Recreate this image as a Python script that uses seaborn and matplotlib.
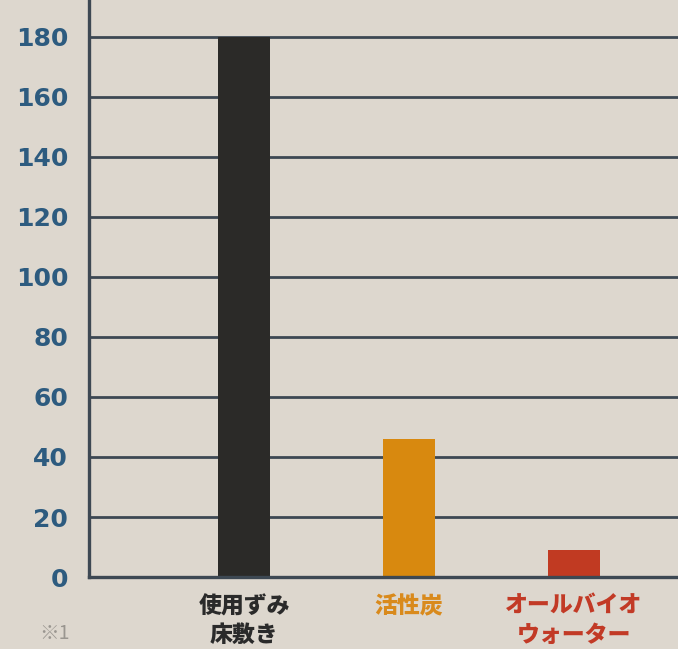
import matplotlib.pyplot as plt
import seaborn as sns
import pandas as pd

categories = ["使用ずみ\n床敷き", "活性炭", "オールバイオ\nウォーター"]
values = [180, 46, 9]
bar_colors = ["#2b2a28", "#d8890f", "#c13a22"]
label_colors = ["#2a2a2a", "#d98a1c", "#c23a26"]
y_ticks = [0, 20, 40, 60, 80, 100, 120, 140, 160, 180]

bg = "#ddd7ce"
line_col = "#3d4853"

sns.set_style("white")
plt.rcParams['font.family'] = ['Noto Sans CJK JP', 'DejaVu Sans']

df = pd.DataFrame({"cat": categories, "val": values})

fig = plt.figure(figsize=(6.78, 6.49), dpi=100, facecolor=bg)
ax = fig.add_axes([0.1313, 0.1109, 0.8687, 0.8891])
ax.set_facecolor(bg)

sns.barplot(data=df, x="cat", y="val", hue="cat", palette=bar_colors,
            width=0.315, legend=False, ax=ax, zorder=3, saturation=1,
            edgecolor="none", linewidth=0)

ax.set_xlim(-0.94, 2.63)
ax.set_ylim(0, 192.3)
ax.set_yticks(y_ticks)
for t in y_ticks[1:]:
    ax.axhline(t, color=line_col, lw=2.0, zorder=1)

for s in ["top", "right"]:
    ax.spines[s].set_visible(False)
for s in ["left", "bottom"]:
    ax.spines[s].set_color(line_col)
    ax.spines[s].set_linewidth(2.4)
ax.spines["bottom"].set_zorder(4)

ax.tick_params(axis="y", length=0, pad=15, labelsize=18, labelcolor="#2d5b7f")
for lbl in ax.get_yticklabels():
    lbl.set_fontweight("bold")
    lbl.set_family(["DejaVu Sans"])

ax.tick_params(axis="x", length=0, pad=13, labelsize=16.5)
for lbl, c in zip(ax.get_xticklabels(), label_colors):
    lbl.set_color(c)
    lbl.set_fontweight("heavy")
    lbl.set_linespacing(1.3)
    lbl.set_verticalalignment("top")

ax.set_xlabel("")
ax.set_ylabel("")

fig.text(0.058, 0.016, "※1", color="#9a9690", fontsize=14, family=["Noto Sans CJK JP", "DejaVu Sans"])

plt.savefig("out.png", dpi=100, facecolor=bg)
plt.close()
